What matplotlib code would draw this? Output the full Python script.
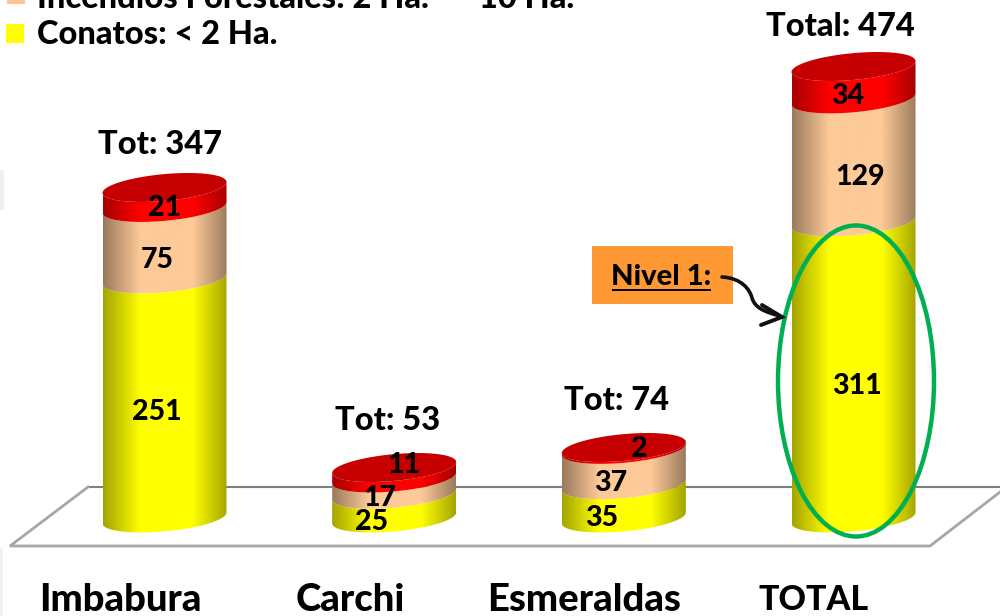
import numpy as np
import matplotlib
matplotlib.use("Agg")
import matplotlib.pyplot as plt
from matplotlib.patches import PathPatch, Rectangle, Ellipse
from matplotlib.path import Path
from matplotlib.colors import LinearSegmentedColormap

# --- data ---
categories = ["Imbabura", "Carchi", "Esmeraldas", "TOTAL"]
conatos = [251, 25, 35, 311]
incendios = [75, 17, 37, 129]
mayores = [21, 11, 2, 34]
totals = [347, 53, 74, 474]
total_prefix = ["Tot: ", "Tot: ", "Tot: ", "Total: "]
legend_labels = ["Incendios Forestales: 2 Ha.  \u2013  10 Ha.", "Conatos: < 2 Ha."]

# --- layout / style ---
W, H = 1000, 616
FONT = "Lato"
WEIGHT = 900
PX_PER_VALUE = 0.9525
BASE_PX = 518
CAT0_PX, CAT_STEP_PX = 164.5, 229.67
HALF_W_PX, HALF_H_PX, SHEAR_PX = 62, 13.4, 5.5

fig = plt.figure(figsize=(W / 100, H / 100), dpi=100, facecolor="white")
bg = fig.add_axes([0, 0, 1, 1], zorder=0)
ax = fig.add_axes([0, 0, 1, 1], zorder=1)
fg = fig.add_axes([0, 0, 1, 1], zorder=2)
for a in (bg, fg):
    a.set_xlim(0, W)
    a.set_ylim(H, 0)
    a.axis("off")
ax.axis("off")
ax.patch.set_alpha(0)
fg.patch.set_alpha(0)
XLIM = ((0 - CAT0_PX) / CAT_STEP_PX, (W - CAT0_PX) / CAT_STEP_PX)
YLIM = ((BASE_PX - H) / PX_PER_VALUE, BASE_PX / PX_PER_VALUE)
ax.set_xlim(XLIM)
ax.set_ylim(YLIM)

# faint remains of the slide background on the left edge
bg.add_patch(Rectangle((0, 170), 4, 40, fc="#efefef", ec="none"))
bg.add_patch(Rectangle((0, 548), 3, 68, fc="#f2f2f2", ec="none"))

# floor
bg.plot([88, 1000], [487, 487], color="#808080", lw=1.5, solid_capstyle="butt")
bg.plot([88, 10, 930, 1000], [487, 546, 546, 492], color="#a6a6a6", lw=2,
        solid_joinstyle="miter")

A = HALF_W_PX / CAT_STEP_PX
B = HALF_H_PX / PX_PER_VALUE
S = SHEAR_PX / PX_PER_VALUE


def rim(cx, v, t):
    return np.column_stack([cx + A * np.cos(t), v + S * np.cos(t) - B * np.sin(t)])


def shade(edge, mid):
    return LinearSegmentedColormap.from_list(
        "s", [(0, edge), (0.3, mid), (0.72, mid), (1, edge)])


side_maps = [shade("#a4a400", "#ffff00"), shade("#9a7a5c", "#fdca98"), shade("#a60000", "#ff0000")]
grad = np.linspace(0, 1, 256)[None, :]
front = np.linspace(np.pi, 0, 80)


def side(cx, v0, v1, cmap, z):
    verts = np.vstack([rim(cx, v0, front), rim(cx, v1, front[::-1])])
    poly = PathPatch(Path(np.vstack([verts, verts[0]])), fc="none", ec="none",
                     transform=ax.transData)
    ax.add_patch(poly)
    im = ax.imshow(grad, cmap=cmap, aspect="auto", zorder=z,
                   extent=(cx - A, cx + A, YLIM[0], YLIM[1]))
    im.set_clip_path(poly)


for i in range(len(categories)):
    v1 = conatos[i]
    v2 = v1 + incendios[i]
    v3 = v2 + mayores[i]
    side(i, 0, v1, side_maps[0], 2)
    side(i, v1, v2, side_maps[1], 2)
    side(i, v2, v3, side_maps[2], 2)
    ring = rim(i, v3, np.linspace(0, 2 * np.pi, 160))
    ax.fill(ring[:, 0], ring[:, 1], color="#c60000", lw=0, zorder=3)
ax.set_xlim(XLIM)
ax.set_ylim(YLIM)

# text
txt = dict(family=FONT, fontweight=WEIGHT, color="black", ha="center", va="center")
label_pos = {
    "conatos": [(157, 412), (372, 522), (602, 518), (857, 386)],
    "incendios": [(157, 260), (380, 498), (611, 483), (860, 177)],
    "mayores": [(165, 208), (404, 465), (639, 449), (848, 96)],
}
for key, vals in (("conatos", conatos), ("incendios", incendios), ("mayores", mayores)):
    for (x, y), v in zip(label_pos[key], vals):
        fg.text(x, y, str(v), fontsize=20.5, **txt)
total_pos = [(160, 145), (388, 420), (617, 401), (840, 26)]
for (x, y), p, t in zip(total_pos, total_prefix, totals):
    fg.text(x, y, f"{p}{t}", fontsize=23.5, **txt)
cat_pos = [(120, 600), (350, 600), (584, 600), (814, 600)]
cat_size = [27.5, 27.5, 27.5, 24.5]
for (x, y), c, s in zip(cat_pos, categories, cat_size):
    fg.text(x, y, c, fontsize=s, **txt)

# legend (cropped by the top edge)
fg.add_patch(Rectangle((7, -8), 18, 12, fc="#fcc69a", ec="none"))
fg.add_patch(Rectangle((6, 24), 18, 19, fc="#ffff00", ec="none"))
left = dict(family=FONT, fontweight=WEIGHT, va="center", ha="left", fontsize=23.5)
fg.text(37, -1, legend_labels[0], **left)
fg.text(37, 35, legend_labels[1], **left)

# callout
fg.add_patch(Rectangle((592, 246), 141, 58, fc="#ff9933", ec="none"))
fg.text(661.5, 277, "Nivel 1:", fontsize=21, **txt)
fg.plot([612, 711], [290, 290], color="black", lw=1.4, solid_capstyle="butt")
curve = Path([(722, 277), (742, 278), (750, 290), (752, 298), (755, 308), (765, 312), (780, 316)],
             [Path.MOVETO, Path.CURVE4, Path.CURVE4, Path.CURVE4, Path.CURVE4, Path.CURVE4, Path.CURVE4])
fg.add_patch(PathPatch(curve, fc="none", ec="#111111", lw=2.6, capstyle="round"))
fg.plot([762, 782, 761], [305, 317, 325], color="#111111", lw=2.8,
        solid_capstyle="round", solid_joinstyle="miter")
fg.add_patch(Ellipse((856, 381), 156, 311, fc="none", ec="#00b050", lw=3.2))

fig.savefig("out.png", dpi=100, facecolor="white")
